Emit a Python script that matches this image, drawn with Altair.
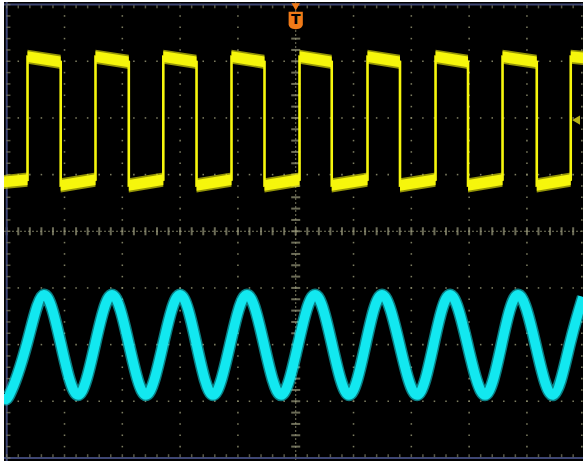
import altair as alt
import numpy as np
import pandas as pd

# Screen span in divisions (10 x 8 graticule, a little extra at the rim)
X_DOMAIN = [-5.047, 4.970]
Y_DOMAIN = [-4.054, 4.046]

# CH1 (yellow) square wave: edge times in divisions, levels in divisions
RISE_T = [-4.640, -3.464, -2.291, -1.111, 0.066, 1.242, 2.419, 3.578, 4.758]
FALL_T = [-4.066, -2.888, -1.716, -0.540, 0.623, 1.804, 2.981, 4.170]
CH1_HIGH = [3.08, 2.99]        # start / end of every high phase
CH1_LOW = [0.81, 0.91]         # start / end of every low phase
CH1_SCREEN_ENDS = [0.87, 3.06]  # level at the left edge (low) and right edge (high)

# CH2 (cyan) sine wave: troughs, midline crossings and peaks
CH2_T = [-5.047, -4.955, -4.655, -4.355, -4.060, -3.766, -3.472, -3.178,
         -2.884, -2.590, -2.296, -2.002, -1.716, -1.431, -1.137, -0.843,
         -0.548, -0.254, 0.040, 0.334, 0.628, 0.922, 1.208, 1.493,
         1.796, 2.099, 2.385, 2.670, 2.972, 3.275, 3.561, 3.846,
         4.149, 4.451, 4.740, 4.970]
CH2_V = [-2.87, -2.89, -2.00, -1.12, -2.00, -2.89, -2.00, -1.12,
         -2.00, -2.89, -2.00, -1.12, -2.00, -2.89, -2.00, -1.12,
         -2.00, -2.89, -2.00, -1.12, -2.00, -2.89, -2.00, -1.12,
         -2.00, -2.89, -2.00, -1.12, -2.00, -2.89, -2.00, -1.12,
         -2.00, -2.89, -2.00, -1.16]

YELLOW = "#f6f60c"
CYAN = "#12e8f0"
ORANGE = "#f07a18"
GRID = "#8a8a6a"
RIM = "#3e4674"

xs = alt.Scale(domain=X_DOMAIN, nice=False, zero=False)
ys = alt.Scale(domain=Y_DOMAIN, nice=False, zero=False)


def X(field="t"):
    return alt.X(f"{field}:Q", scale=xs, axis=None)


def Y(field="v"):
    return alt.Y(f"{field}:Q", scale=ys, axis=None)


# ---- graticule ----
minor_y = np.round(np.arange(-4, 4.0001, 0.2), 2)
minor_x = np.round(np.arange(-5, 5.0001, 0.2), 2)

dots = []
for gx in [-4, -3, -2, -1, 1, 2, 3, 4]:
    dots += [{"t": gx, "v": v} for v in minor_y]
for gy in [-3, -2, -1, 1, 2, 3]:
    dots += [{"t": t, "v": gy} for t in minor_x]
dots += [{"t": 4.95, "v": v} for v in minor_y]
grid_dots = alt.Chart(pd.DataFrame(dots)).mark_square(
    size=2.4, color=GRID, opacity=0.9
).encode(x=X(), y=Y())

axis_lines = pd.DataFrame({"t": [0.0], "v": [0.0]})
h_center = alt.Chart(axis_lines).mark_rule(
    color="#77775e", strokeWidth=1, strokeDash=[2, 2]
).encode(y=Y(), x=alt.value(0), x2=alt.value(579))
v_center = alt.Chart(axis_lines).mark_rule(
    color="#77775e", strokeWidth=1, strokeDash=[2, 2]
).encode(x=X(), y=alt.value(0), y2=alt.value(459))

h_ticks = alt.Chart(pd.DataFrame({"t": minor_x, "v": 0.0})).mark_tick(
    orient="vertical", size=8, thickness=2, color="#9a9a7c"
).encode(x=X(), y=Y())
v_ticks = alt.Chart(pd.DataFrame({"t": 0.0, "v": minor_y})).mark_tick(
    orient="horizontal", size=9, thickness=2, color="#9a9a7c"
).encode(x=X(), y=Y())

# rim of the screen: left, top and bottom edges with short minor ticks
rim_h = alt.Chart(pd.DataFrame({"v": [4.0, -4.0]})).mark_rule(
    color=RIM, strokeWidth=2
).encode(y=Y(), x=alt.value(0), x2=alt.value(579))
rim_v = alt.Chart(pd.DataFrame({"t": [-5.0]})).mark_rule(
    color=RIM, strokeWidth=2
).encode(x=X(), y=alt.value(0), y2=alt.value(459))
rim_ticks_h = alt.Chart(
    pd.DataFrame({"t": np.concatenate([minor_x, minor_x]),
                  "v": [3.96] * len(minor_x) + [-3.96] * len(minor_x)})
).mark_tick(orient="vertical", size=3, thickness=1.5, color="#7f7f66").encode(x=X(), y=Y())
rim_ticks_v = alt.Chart(pd.DataFrame({"t": -4.97, "v": minor_y})).mark_tick(
    orient="horizontal", size=4, thickness=1.5, color="#7f7f66"
).encode(x=X(), y=Y())

# ---- CH1 trace ----
left, right = X_DOMAIN
path = [(left, CH1_SCREEN_ENDS[0])]
for i, r in enumerate(RISE_T):
    path.append((r, CH1_LOW[1]))
    path.append((r, CH1_HIGH[0]))
    if i < len(FALL_T):
        path.append((FALL_T[i], CH1_HIGH[1]))
        path.append((FALL_T[i], CH1_LOW[0]))
path.append((right, CH1_SCREEN_ENDS[1]))

ch1_path = pd.DataFrame({"t": [p[0] for p in path], "v": [p[1] for p in path],
                         "o": range(len(path))})

band_rows = []
for k in range(0, len(path), 2):
    (t0, v0), (t1, v1) = path[k], path[k + 1]
    band_rows.append({"seg": k, "t": t0, "v": v0})
    band_rows.append({"seg": k, "t": t1, "v": v1})
ch1_band = pd.DataFrame(band_rows)


def band(half, opacity):
    return alt.Chart(ch1_band).transform_calculate(
        top=f"datum.v + {half}", bot=f"datum.v - {half}"
    ).mark_area(color=YELLOW, opacity=opacity, clip=True).encode(
        x=X(), y=Y("top"), y2="bot:Q", detail="seg:N"
    )


ch1_glow = band(0.125, 0.6)
ch1_core = band(0.095, 1.0)
ch1_line = alt.Chart(ch1_path).mark_line(
    color=YELLOW, strokeWidth=2.6, clip=True
).encode(x=X(), y=Y(), order="o:Q")

# ---- CH2 trace ----
ch2 = pd.DataFrame({"t": CH2_T, "v": CH2_V})
ch2_glow = alt.Chart(ch2).mark_line(
    interpolate="natural", color=CYAN, strokeWidth=12.5, opacity=0.55, clip=True
).encode(x=X(), y=Y())
ch2_core = alt.Chart(ch2).mark_line(
    interpolate="natural", color=CYAN, strokeWidth=9.5, clip=True
).encode(x=X(), y=Y())

# ---- markers: trigger position and CH1 reference level ----
marker = pd.DataFrame({"t": [0.0], "v": [3.958]})
trig_arrow = alt.Chart(marker).mark_point(
    shape="triangle-down", size=70, filled=True, color=ORANGE, opacity=1
).encode(x=X(), y=Y())
badge = pd.DataFrame({"t": [0.0], "v": [3.72]})
trig_badge = alt.Chart(badge).mark_point(
    shape="M -0.82 -1 L 0.82 -1 L 0.82 0.45 Q 0.82 1 0 1 Q -0.82 1 -0.82 0.45 Z",
    size=300, filled=True, color=ORANGE, opacity=1
).encode(x=X(), y=Y())
trig_text = alt.Chart(badge).mark_text(
    text="T", font="DejaVu Sans", fontSize=14, fontWeight="bold", color="#000000"
).encode(x=X(), y=Y())

ref = pd.DataFrame({"t": [4.849], "v": [1.962]})
ch1_ref = alt.Chart(ref).mark_point(
    shape="triangle-left", size=85, filled=True, color="#b8b416", opacity=1
).encode(x=X(), y=Y())

chart = alt.layer(
    grid_dots, h_center, v_center, h_ticks, v_ticks,
    rim_h, rim_v, rim_ticks_h, rim_ticks_v,
    ch1_glow, ch1_core, ch1_line,
    ch2_glow, ch2_core,
    ch1_ref, trig_arrow, trig_badge, trig_text,
).properties(
    width=579, height=459,
    autosize=alt.AutoSizeParams(type="none"),
    padding={"left": 4, "top": 2, "right": 0, "bottom": 4},
    background="#ffffff",
).configure_view(fill="#000000", stroke=None)

chart.save("out.html", embed_options={"renderer": "svg", "actions": False})
